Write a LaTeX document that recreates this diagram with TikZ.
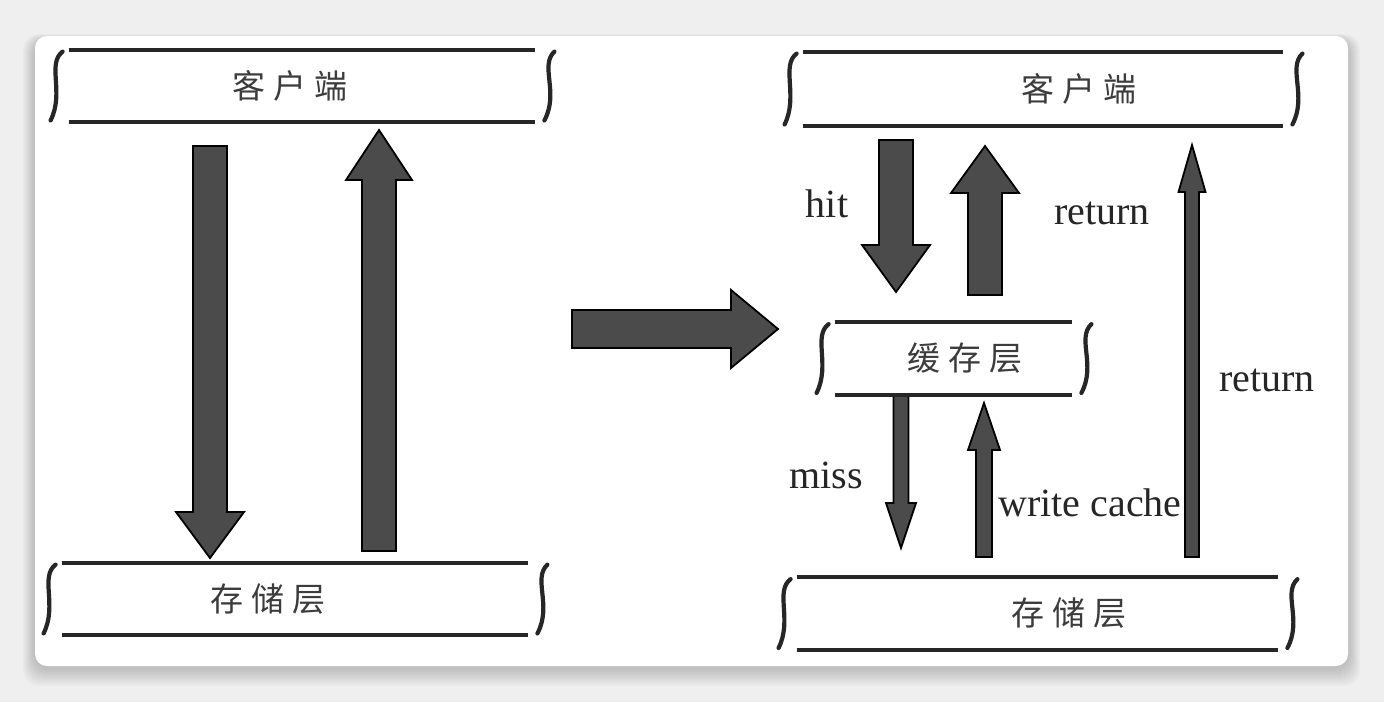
\documentclass[tikz,border=0pt]{standalone}
\usepackage{fontspec}
\setmainfont{Liberation Serif}
\newfontfamily\cjk[LetterSpace=25]{Noto Sans CJK SC}
\usetikzlibrary{calc}

\definecolor{pagegray}{HTML}{EFEFEF}
\definecolor{arrowgray}{HTML}{4B4B4B}
\definecolor{inkgray}{HTML}{262626}

% block arrow: from, to, shaft half width, head half width, head length
\newcommand\blockarrow[5]{%
  \filldraw[barrow] let \p1=($(#2)-(#1)$), \n1={veclen(\x1,\y1)}, \n2={atan2(\y1,\x1)} in
    [shift={(#1)}, rotate=\n2]
    (0pt,-#3) -- ({\n1*1pt-#5},-#3) -- ({\n1*1pt-#5},-#4) -- ({\n1*1pt},0pt)
    -- ({\n1*1pt-#5},#4) -- ({\n1*1pt-#5},#3) -- (0pt,#3) -- cycle;}

\begin{document}
\begin{tikzpicture}[
    x=0.5pt, y=-0.5pt,
    layer/.style={inner sep=0pt, minimum height=36pt},
    zh/.style={font=\cjk\fontsize{16.5}{18}\selectfont, text=inkgray!90},
    lab/.style={font=\fontsize{20}{22}\selectfont, text=inkgray, inner sep=0pt},
    rule/.style={draw=inkgray, line width=2pt},
    brace/.style={draw=inkgray, line width=2.1pt, line cap=round},
    barrow/.style={fill=arrowgray, draw=black, line width=0.9pt, line join=miter}
]
\useasboundingbox (0,0) rectangle (1384,702);
\fill[pagegray] (0,0) rectangle (1384,702);

% card and its shadow
\foreach \i in {1,...,10}
  \fill[black, opacity=0.02, rounded corners=8pt] ({35-1.2*\i},{40-0.6*\i}) rectangle ({1348+1.2*\i},{668+1.8*\i});
\fill[white, rounded corners=6pt] (35,36) rectangle (1348,666);

% layers (left: before, right: with cache)
\node[layer, minimum width=233pt, label={[zh, xshift=-6pt]center:客户端}] (cliA) at (302,86) {};
\node[layer, minimum width=233pt, label={[zh, xshift=-13.5pt]center:存储层}] (stoA) at (295,599) {};
\node[layer, minimum width=240pt, minimum height=37pt, label={[zh, xshift=18pt]center:客户端}] (cliB) at (1043,89) {};
\node[layer, minimum width=118.5pt, label={[zh, xshift=5.75pt]center:缓存层}] (cacheB) at (953.5,358.5) {};
\node[layer, minimum width=240.5pt, label={[zh, xshift=15.75pt]center:存储层}] (stoB) at (1037.5,613.5) {};

% arrow ends
\coordinate (dnA0) at (210,146);   \coordinate (dnA1) at (210,558);
\coordinate (upA0) at (379,551);   \coordinate (upA1) at (379,130);
\coordinate (mid0) at (572,329);   \coordinate (mid1) at (778,329);
\coordinate (hit0) at (896,140);   \coordinate (hit1) at (896,292);
\coordinate (ret0) at (985,295);   \coordinate (ret1) at (985,146);
\coordinate (miss0) at (901,396);  \coordinate (miss1) at (901,548);
\coordinate (wc0) at (984,557);    \coordinate (wc1) at (984,403);
\coordinate (retL0) at (1192,557); \coordinate (retL1) at (1192,145);

\blockarrow{dnA0}{dnA1}{8.5pt}{17pt}{23pt}
\blockarrow{upA0}{upA1}{8.5pt}{16.5pt}{25pt}
\blockarrow{mid0}{mid1}{9.5pt}{19.5pt}{23.5pt}
\blockarrow{hit0}{hit1}{8.5pt}{17pt}{23.5pt}
\blockarrow{ret0}{ret1}{8.5pt}{17pt}{23.5pt}
\blockarrow{miss0}{miss1}{3.75pt}{7.5pt}{22.5pt}
\blockarrow{wc0}{wc1}{4pt}{8pt}{23.5pt}
\blockarrow{retL0}{retL1}{3.5pt}{6.75pt}{23.5pt}

% rules and hand drawn sides
\foreach \b in {cliA,stoA,cliB,cacheB,stoB} {
  \draw[rule] (\b.north west) -- (\b.north east);
  \draw[rule] (\b.south west) -- (\b.south east);
  \draw[brace] ($(\b.north west)+(-6,2)$) .. controls ($(\b.north west)+(-22,14)$)
    and ($(\b.south west)+(-4,-30)$) .. ($(\b.south west)+(-18,-2)$);
  \draw[brace] ($(\b.north east)+(19,2)$) .. controls ($(\b.north east)+(4,16)$)
    and ($(\b.south east)+(24,-30)$) .. ($(\b.south east)+(9,-2)$);
}

% labels
\node[lab] (hitT) at (827,204) {hit};
\node[lab] (retT) at (1102,213) {return};
\node[lab] (retLT) at (1267,380) {return};
\node[lab] (missT) at (826,475) {miss};
\node[lab] (wcT) at (1090,503) {write cache};
\end{tikzpicture}
\end{document}
